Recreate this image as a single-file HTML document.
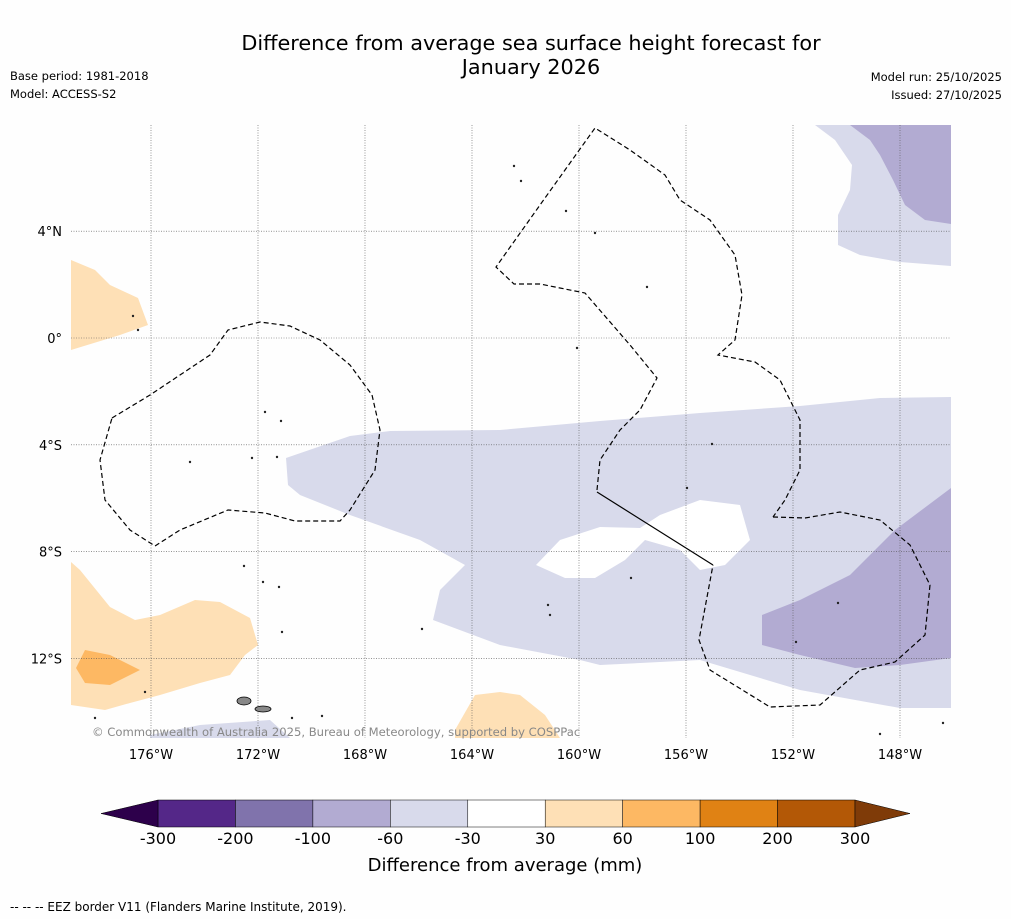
<!DOCTYPE html>
<html><head><meta charset="utf-8">
<style>
body{margin:0;background:#fff;font-family:"DejaVu Sans","Liberation Sans",sans-serif;}
#wrap{position:relative;width:1011px;height:919px;background:#fefefe;overflow:hidden}
svg text{font-family:"DejaVu Sans","Liberation Sans",sans-serif;}
</style></head>
<body>
<div id="wrap">
<svg id="svg" width="1011" height="919" xmlns="http://www.w3.org/2000/svg">
<text x="531" y="50" font-size="20.8" text-anchor="middle">Difference from average sea surface height forecast for</text>
<text x="531" y="74" font-size="20.8" text-anchor="middle">January 2026</text>
<text x="10" y="80" font-size="11.5">Base period: 1981-2018</text>
<text x="10" y="98" font-size="11.5">Model: ACCESS-S2</text>
<text x="1002" y="81" font-size="11.5" text-anchor="end">Model run: 25/10/2025</text>
<text x="1002" y="99" font-size="11.5" text-anchor="end">Issued: 27/10/2025</text>
<g id="map"></g>
<g id="cbar"></g>
<text x="505" y="871" font-size="18" text-anchor="middle">Difference from average (mm)</text>
<text x="10" y="911" font-size="12">--  --  -- EEZ border V11 (Flanders Marine Institute, 2019).</text>
</svg>
</div>
<script>
const lonTicks=[-176,-172,-168,-164,-160,-156,-152,-148];
const latTicks=[4,0,-4,-8,-12];
const cbBounds=[-300,-200,-100,-60,-30,30,60,100,200,300];
const cbColors=["#542788","#8073ac","#b2abd2","#d8daeb","#ffffff","#fee0b6","#fdb863","#e08214","#b35806"];
const P=(x,y)=>[-176+(x-151)/26.75, -(y-338)/26.7];
const conv=a=>a.map(p=>P(p[0],p[1]));
const regionLight=conv([[286,458],[350,436],[390,431],[500,430],[600,421],[700,413],[800,406],[880,398],[951,397],[951,708],[900,708],[800,690],[700,660],[600,665],[580,660],[500,645],[433,620],[440,590],[465,565],[420,540],[350,515],[300,495],[288,485]]);
const regionHole=conv([[536,565],[560,540],[600,527],[640,528],[660,515],[700,500],[740,505],[750,540],[725,565],[700,570],[680,550],[645,540],[625,560],[595,578],[565,578]]);
const regionDarkBR=conv([[762,615],[800,600],[850,575],[895,530],[951,488],[951,658],[900,665],[855,668],[800,655],[762,645]]);
const regionLightTR=conv([[815,125],[951,125],[951,266],[900,262],[860,255],[838,245],[838,215],[850,190],[852,165],[835,140]]);
const regionDarkTR=conv([[850,125],[951,125],[951,224],[925,220],[905,205],[893,180],[880,155],[870,140]]);
const regionLightBL=conv([[150,735],[200,725],[270,720],[290,738],[150,738]]);
const regionOrTL=conv([[71,260],[95,270],[110,285],[138,298],[148,325],[120,335],[71,350]]);
const regionOrBL=conv([[71,562],[80,570],[110,607],[135,620],[160,615],[195,600],[220,602],[250,618],[258,645],[245,655],[230,675],[200,683],[160,695],[130,703],[105,710],[71,705]]);
const regionOr2=conv([[85,650],[110,655],[140,670],[110,685],[85,683],[76,668]]);
const regionOrBC=conv([[455,730],[475,695],[500,692],[520,695],[545,715],[560,738],[455,738]]);
const eezWest=conv([[112,418],[150,395],[210,355],[228,330],[260,322],[290,326],[320,340],[350,365],[372,395],[380,430],[375,470],[350,510],[340,521],[295,521],[265,513],[228,510],[180,530],[155,546],[130,530],[105,500],[100,460],[112,418]]);
const eezLine=conv([[597,490],[600,460],[620,430],[640,410],[657,378],[630,345],[585,293],[540,284],[514,284],[496,267],[540,205],[595,128],[630,150],[665,175],[680,200],[710,220],[735,255],[742,295],[735,340],[718,355],[755,362],[780,380],[800,420],[800,470],[785,500],[773,517]]);
const eezLine2=conv([[773,517],[805,518],[840,512],[880,520],[910,545],[930,585],[925,635],[895,662],[860,670],[820,705],[770,707],[710,670],[699,640],[713,565]]);
const solidBorder=conv([[597,492],[713,565]]);
const islands=conv([[133,316],[138,330],[265,412],[281,421],[190,462],[252,458],[277,457],[244,566],[263,582],[279,587],[282,632],[145,692],[595,233],[647,287],[514,166],[521,181],[566,211],[577,348],[712,444],[687,488],[631,578],[548,605],[550,615],[422,629],[838,603],[796,642],[95,718],[292,718],[322,716],[880,734],[943,723]]);
const samoa=conv([[244,701],[263,709]]);

const lonX=lon=>151+(lon+176)*26.75;
const latY=lat=>338-lat*26.7;
const NS="http://www.w3.org/2000/svg";
const map=document.getElementById('map');
function mk(tag,attrs,parent){const e=document.createElementNS(NS,tag);for(const k in attrs)e.setAttribute(k,attrs[k]);parent.appendChild(e);return e;}
const pts=a=>a.map(p=>lonX(p[0]).toFixed(1)+","+latY(p[1]).toFixed(1)).join(" ");
const clip=mk('clipPath',{id:'mc'},map);mk('rect',{x:71,y:125,width:880,height:613},clip);
const g=mk('g',{'clip-path':'url(#mc)'},map);
const regs=[[regionLight,3,'region-light-purple'],[regionHole,4,'region-neutral-hole'],[regionDarkBR,2,'region-purple-southeast'],[regionLightTR,3,'region-light-purple-northeast'],[regionDarkTR,2,'region-purple-northeast'],[regionLightBL,3,'region-light-purple-southwest'],[regionOrTL,5,'region-orange-northwest'],[regionOrBL,5,'region-orange-southwest'],[regionOr2,6,'region-orange-core'],[regionOrBC,5,'region-orange-south']];
regs.forEach(r=>{const e=mk('polygon',{points:pts(r[0]),fill:cbColors[r[1]]},g);

});
lonTicks.forEach(l=>{const x=lonX(l);const e=mk('line',{x1:x,y1:125,x2:x,y2:738,stroke:'#555','stroke-width':0.6,'stroke-dasharray':'1,1.5'},g);


const t=mk('text',{x:x,y:759,'font-size':13,'text-anchor':'middle'},map);t.textContent=Math.abs(l)+"°W";

});
latTicks.forEach(l=>{const y=latY(l);const e=mk('line',{x1:71,y1:y,x2:951,y2:y,stroke:'#555','stroke-width':0.6,'stroke-dasharray':'1,1.5'},g);


const t=mk('text',{x:62,y:y+5,'font-size':13,'text-anchor':'end'},map);t.textContent=l===0?"0°":Math.abs(l)+"°"+(l>0?"N":"S");

});
[eezWest,eezLine,eezLine2].forEach(a=>{const e=mk('polyline',{points:pts(a),fill:'none',stroke:'#000','stroke-width':1.2,'stroke-dasharray':'5,3'},g);

});
const sb=mk('polyline',{points:pts(solidBorder),fill:'none',stroke:'#000','stroke-width':1.2},g);


islands.forEach(p=>{const e=mk('circle',{cx:lonX(p[0]),cy:latY(p[1]),r:1.2,fill:'#222'},g);

});
samoa.forEach((p,i)=>{const e=mk('ellipse',{cx:lonX(p[0]),cy:latY(p[1]),rx:i?8:7,ry:i?3:4,fill:'#888',stroke:'#000','stroke-width':0.8},g);

});
const cr=mk('text',{x:92,y:736,'font-size':11.6,fill:'#888'},map);cr.textContent="© Commonwealth of Australia 2025, Bureau of Meteorology, supported by COSPPac";


const cb=document.getElementById('cbar');
const cx0=158,cx1=855,cy0=800,cy1=827;
const step=(cx1-cx0)/(cbBounds.length-1);
cbColors.forEach((c,i)=>{const e=mk('rect',{x:cx0+i*step,y:cy0,width:step,height:cy1-cy0,fill:c,stroke:'#000','stroke-width':0.5},cb);

});
const lt=mk('polygon',{points:`${cx0},${cy0} 101,813.5 ${cx0},${cy1}`,fill:'#2d004b',stroke:'#000','stroke-width':0.5},cb);


const rt=mk('polygon',{points:`${cx1},${cy0} 910,813.5 ${cx1},${cy1}`,fill:'#7f3b08',stroke:'#000','stroke-width':0.5},cb);


cbBounds.forEach((b,i)=>{const t=mk('text',{x:cx0+i*step,y:844,'font-size':16,'text-anchor':'middle'},cb);t.textContent=b;

});
</script>
</body></html>
